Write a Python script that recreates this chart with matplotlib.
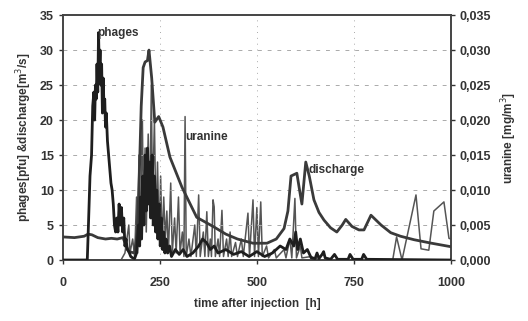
import matplotlib
matplotlib.use("Agg")
import matplotlib.pyplot as plt
from matplotlib.ticker import FuncFormatter

# ---------------- data ----------------
discharge_t = [0, 30, 55, 65, 75, 90, 110, 125, 140, 155, 162, 170, 185, 192, 197, 202, 207,
               212, 218, 222, 229, 237, 247, 258, 276, 307, 345, 387, 420, 450,
               490, 526, 550, 570, 580, 588, 603, 610, 616, 626, 635, 647, 660, 673, 690, 706,
               720, 729, 745, 763, 776, 794, 820, 845, 870, 905, 950, 1000]
discharge_v = [3.3, 3.2, 3.4, 3.7, 3.6, 3.2, 3.0, 3.1, 3.0, 3.2, 2.2, 1.2, 1.0, 4, 12, 22, 27.5,
               28.3, 28.5, 30, 26, 19.7, 20.5, 19, 14.7, 10.4, 6.1, 4.8, 3.7, 3.0,
               2.4, 2.4, 3.0, 4.5, 7, 12, 12.4, 10, 8, 14, 12, 8.6, 6.8, 5.7, 4.6, 4.0,
               5.0, 5.8, 4.8, 4.3, 4.3, 6.4, 5, 3.9, 3.4, 2.9, 2.4, 1.9]

phages_t = [0, 60, 63, 66, 70, 74, 77, 80, 82, 84, 86, 88, 90, 92, 94, 96, 98, 100, 102, 104,
            106, 108, 110, 112, 115, 118, 121, 124, 127, 130, 133, 136, 139, 142, 145, 148,
            151, 154, 157, 160, 163, 166, 170, 175, 180, 185, 190, 195, 198, 200, 203, 206,
            209, 212, 215, 218, 221, 224, 227, 230, 233, 236, 239, 242, 245, 248, 251, 254,
            257, 260, 263, 266, 270, 275, 280, 290, 300, 310, 320, 335, 350, 360, 370, 380,
            390, 400, 420, 440, 460, 480, 500, 520, 540, 560, 575, 585, 595, 600, 605, 612,
            620, 630, 640, 650, 655, 660, 668, 672, 676, 690, 700, 708, 735, 740, 748, 770,
            775, 783, 1000]
phages_v = [0, 0, 0, 5, 12, 15, 22, 24, 20, 25, 23, 28, 24, 32.5, 27, 30, 25, 28, 21, 26,
            22, 23, 19, 21, 17, 15, 13, 11, 10, 8, 5, 4, 6, 4, 8, 5,
            7.5, 4, 6, 2, 3, 1.5, 1.2, 0.5, 0.3, 0.2, 1, 5, 2, 9, 3, 12,
            5, 15, 7, 16, 8, 14, 6, 15, 5, 12, 4, 10, 3, 8, 2, 6,
            1.5, 4, 1, 3, 1, 2, 0.5, 1.5, 0.8, 1.5, 0.5, 1, 2, 3, 2.5, 1.5,
            2, 1, 1.5, 0.8, 1.2, 0.5, 1.2, 0.5, 1, 2, 1.5, 3, 2, 4, 1.5, 3,
            1, 1.5, 0.3, 0.2, 1, 0.2, 0.8, 1.2, 0.3, 0.1, 0.8, 0.1, 0.1, 0.8, 0.1, 0.1,
            0.8, 0.1, 0]

uranine_t = [0, 150, 160, 170, 173, 180, 185, 190, 193, 196, 199, 205, 208, 212, 215, 220,
             224, 228, 231, 236, 240, 244, 248, 252, 256, 260, 264, 268, 272, 278, 282, 288,
             292, 298, 302, 308, 312, 315, 318, 325, 330, 340, 344, 350, 354, 362, 366, 371,
             375, 380, 383, 387, 390, 393, 400, 404, 410, 414, 422, 426, 431, 435, 445, 450,
             460, 465, 477, 481, 490, 494, 500, 504, 510, 514, 525, 530, 545, 550, 570, 575,
             585, 590, 598, 602, 612, 616, 640, 660, 850, 860, 874, 910, 923, 943, 956, 982,
             995, 1000]
uranine_v = [0, 0, 0.001, 0.005, 0.001, 0.003, 0.0005, 0.009, 0.001, 0.015, 0.003, 0.020,
             0.005, 0.016, 0.004, 0.018, 0.006, 0.025, 0.008, 0.020, 0.005, 0.014, 0.003,
             0.012, 0.002, 0.009, 0.003, 0.007, 0.001, 0.011, 0.001, 0.006, 0.001, 0.009,
             0.001, 0.004, 0.0005, 0.0205, 0.0005, 0.003, 0.0005, 0.005, 0.0005, 0.0093,
             0.0005, 0.004, 0.0005, 0.0069, 0.0005, 0.003, 0.0005, 0.0086, 0.0076, 0.0005,
             0.003, 0.0005, 0.0071, 0.0005, 0.003, 0.0005, 0.004, 0.0005, 0.0025, 0.0005,
             0.003, 0.0005, 0.0067, 0.0005, 0.0086, 0.0005, 0.0075, 0.0005, 0.0083, 0.0005,
             0.002, 0.0003, 0.0015, 0.0003, 0.0015, 0.0003, 0.003, 0.0003, 0.0088, 0.0003,
             0.002, 0.0003, 0.0005, 0, 0, 0.0033, 0, 0.0093, 0.0016, 0.0014, 0.007, 0.0083,
             0.0031, 0.003]

x_ticks = [0, 250, 500, 750, 1000]
left_ticks = [0, 5, 10, 15, 20, 25, 30, 35]
right_ticks = [0, 0.005, 0.010, 0.015, 0.020, 0.025, 0.030, 0.035]

# ---------------- figure ----------------
plt.rcParams['font.family'] = ['Liberation Sans', 'DejaVu Sans']
txt = '#333333'
fig = plt.figure(figsize=(5.28, 3.21), dpi=100)
ax = fig.add_axes([0.119, 0.190, 0.735, 0.763])
ax2 = ax.twinx()

ax.set_xlim(0, 1000)
ax.set_ylim(0, 35)
ax2.set_ylim(0, 0.035)

for y in left_ticks[1:-1]:
    ax.axhline(y, color='#aaaaaa', lw=0.7, ls=(0, (4, 6)), zorder=0)
for x in x_ticks[1:-1]:
    ax.axvline(x, color='#aaaaaa', lw=0.7, ls=(0, (1, 5)), zorder=0)

ax2.plot(uranine_t, uranine_v, color='#555555', lw=1.1, zorder=2)
ax.plot(discharge_t, discharge_v, color='#3a3a3a', lw=2.0, zorder=3)
ax.plot(phages_t, phages_v, color='#1e1e1e', lw=2.0, zorder=4)
ax.set_zorder(ax2.get_zorder() + 1)
ax.patch.set_visible(False)

ax.set_xticks(x_ticks)
ax.set_yticks(left_ticks)
ax2.set_yticks(right_ticks)
ax2.yaxis.set_major_formatter(FuncFormatter(lambda v, p: f"{v:.3f}".replace('.', ',')))

for a in (ax, ax2):
    a.tick_params(labelsize=9, colors=txt, length=3, width=1)
    for s in a.spines.values():
        s.set_color('#444444')
        s.set_linewidth(1.2)
for lab in ax.get_xticklabels() + ax.get_yticklabels() + ax2.get_yticklabels():
    lab.set_fontweight('bold')
ax.tick_params(axis='x', pad=9)

ax.set_xlabel('time after injection  [h]', fontsize=8.5, fontweight='bold', color=txt, labelpad=7)
ax.set_ylabel('phages[pfu] &discharge[m$^3$/s]', fontsize=8.5, fontweight='bold', color=txt, labelpad=4)
ax2.set_ylabel('uranine [mg/m$^3$]', fontsize=8.5, fontweight='bold', color=txt, labelpad=6)

ax.text(88, 32.5, 'phages', fontsize=8.5, fontweight='bold', color=txt, va='center', zorder=5)
ax.text(315, 17.6, 'uranine', fontsize=8.5, fontweight='bold', color=txt, va='center', zorder=5)
ax.text(632, 12.8, 'discharge', fontsize=8.5, fontweight='bold', color=txt, va='center', zorder=5)

fig.savefig('out.png', dpi=100)
